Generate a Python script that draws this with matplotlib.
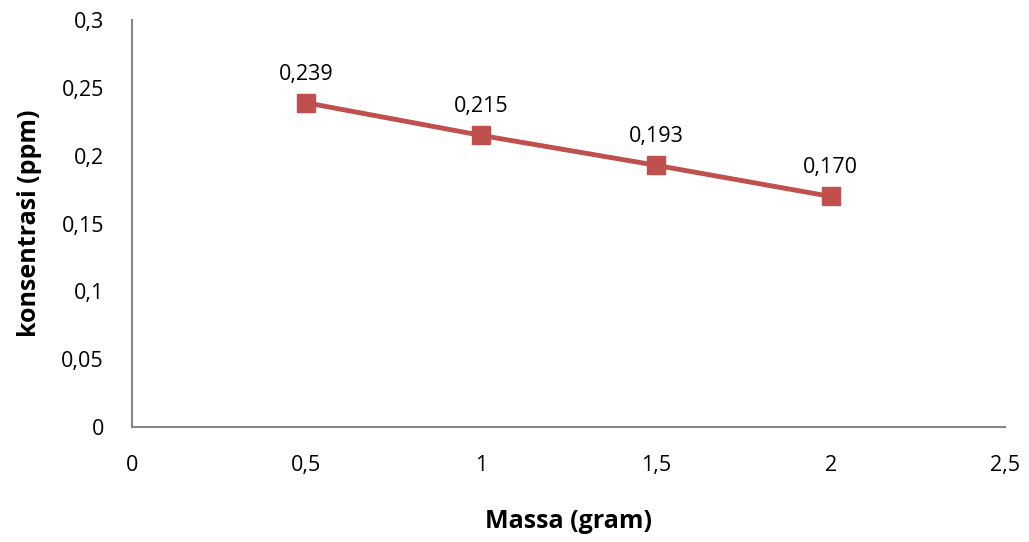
import matplotlib
matplotlib.use('Agg')
from matplotlib import pyplot as plt

# data
massa = [0.5, 1.0, 1.5, 2.0]
konsentrasi = [0.239, 0.215, 0.193, 0.170]
x_ticks = [0, 0.5, 1, 1.5, 2, 2.5]
y_ticks = [0, 0.05, 0.1, 0.15, 0.2, 0.25, 0.3]

plt.rcParams['font.family'] = ['Open Sans', 'DejaVu Sans']

def koma(v):
    s = ('%g' % v).replace('.', ',')
    return s

fig = plt.figure(figsize=(10.29, 5.42), dpi=100)
ax = fig.add_axes([0.128, 0.212, 0.849, 0.751])

ax.plot(massa, konsentrasi, color='#C0504D', linewidth=3.5,
        marker='s', markersize=13, markerfacecolor='#C0504D',
        markeredgecolor='#C0504D', clip_on=False)
for x, y in zip(massa, konsentrasi):
    ax.annotate(('%.3f' % y).replace('.', ','), (x, y), xytext=(0, 13),
                textcoords='offset points', ha='center', va='bottom', fontsize=15.5)

ax.set_xlim(0, 2.5)
ax.set_ylim(0, 0.3)
ax.set_xticks(x_ticks)
ax.set_yticks(y_ticks)
ax.set_xticklabels([koma(v) for v in x_ticks], fontsize=15.5)
ax.set_yticklabels([koma(v) for v in y_ticks], fontsize=15.5)
ax.tick_params(length=0)
ax.tick_params(axis='x', pad=20)
ax.tick_params(axis='y', pad=20)

for s in ['top', 'right']:
    ax.spines[s].set_visible(False)
for s in ['left', 'bottom']:
    ax.spines[s].set_color('#868686')
    ax.spines[s].set_linewidth(1.5)

ax.set_xlabel('Massa (gram)', fontsize=18, fontweight='bold', labelpad=24)
ax.set_ylabel('konsentrasi (ppm)', fontsize=18, fontweight='bold', labelpad=14)

fig.savefig('out.png', dpi=100)
